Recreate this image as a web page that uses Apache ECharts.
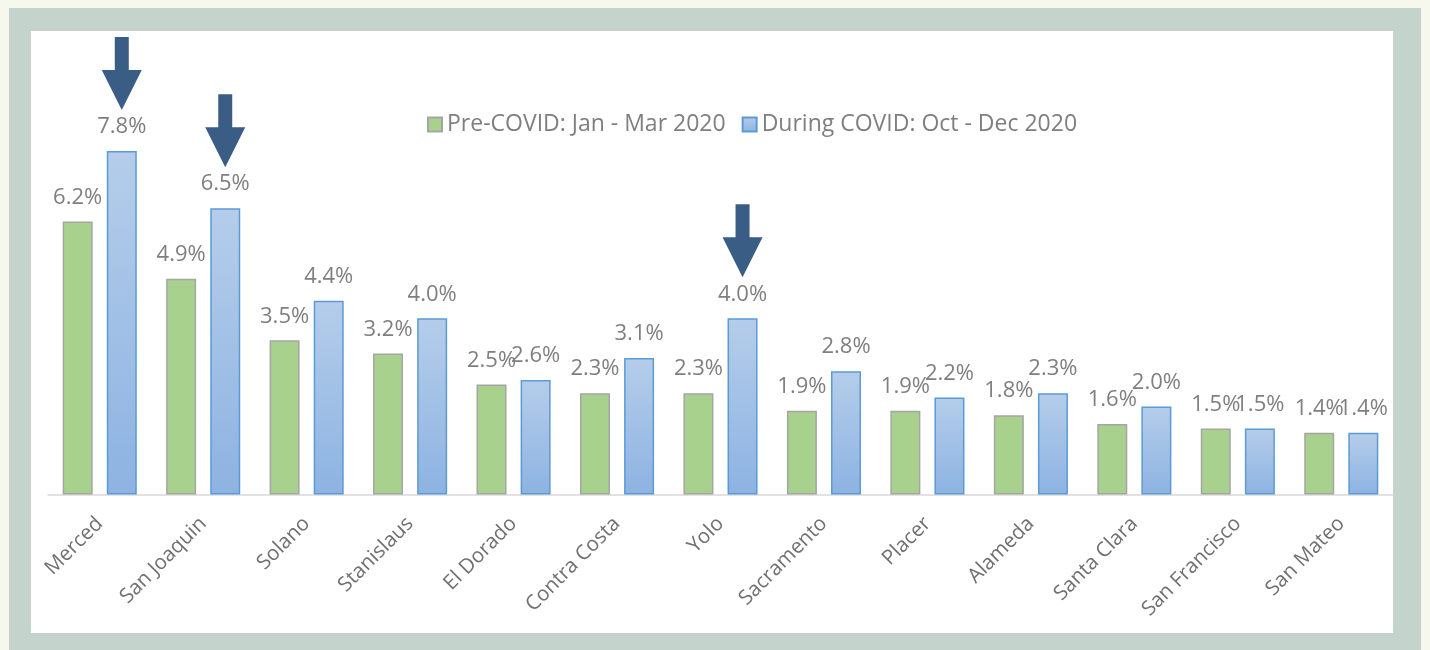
<!DOCTYPE html>
<html><head><meta charset="utf-8">
<script src="https://cdn.jsdelivr.net/npm/echarts@6/dist/echarts.min.js"></script>
<style>
html,body{margin:0;padding:0;width:1430px;height:650px;background:#f6f8ee;overflow:hidden}
#frame{position:absolute;left:9px;top:8px;width:1412px;height:642px;background:#c4d4cc}
#panel{position:absolute;left:31px;top:31px;width:1362px;height:602px;background:#fff}
#chart{position:absolute;left:0;top:0;width:1430px;height:650px}
</style></head><body>
<div id="frame"></div><div id="panel"></div><div id="chart"></div>
<script>
const counties = ['Merced','San Joaquin','Solano','Stanislaus','El Dorado','Contra Costa','Yolo','Sacramento','Placer','Alameda','Santa Clara','San Francisco','San Mateo'];
const preCovid = [6.2, 4.9, 3.5, 3.2, 2.5, 2.3, 2.3, 1.9, 1.9, 1.8, 1.6, 1.5, 1.4];
const duringCovid = [7.8, 6.5, 4.4, 4.0, 2.6, 3.1, 4.0, 2.8, 2.2, 2.3, 2.0, 1.5, 1.4];
const seriesNames = ['Pre-COVID: Jan - Mar 2020', 'During COVID: Oct - Dec 2020'];
const highlighted = ['Merced', 'San Joaquin', 'Yolo'];

const FONT = 'Open Sans';
const chart = echarts.init(document.getElementById('chart'), null, {renderer: 'canvas'});
const labelCfg = {
  show: true, position: 'top', distance: 13,
  color: '#7f7f7f', fontSize: 22, fontFamily: FONT,
  formatter: p => p.value.toFixed(1) + '%'
};
chart.setOption({
  animation: false,
  backgroundColor: 'transparent',
  grid: {left: 48, right: 37, top: 54, bottom: 155.5},
  legend: {
    left: 427, top: 113, padding: 0, itemWidth: 14, itemHeight: 14, itemGap: 16,
    icon: 'rect',
    textStyle: {color: '#7f7f7f', fontSize: 23, fontFamily: FONT},
    data: seriesNames
  },
  xAxis: {
    type: 'category', data: counties,
    axisLine: {lineStyle: {color: '#d9d9d9', width: 1.5}},
    axisTick: {show: false},
    axisLabel: {interval: 0, rotate: 45, margin: 26, color: '#707070', fontSize: 20.5, fontFamily: FONT}
  },
  yAxis: {type: 'value', min: 0, max: 10, show: false, splitLine: {show: false}},
  series: [
    {
      name: seriesNames[0], type: 'bar', data: preCovid,
      barWidth: 30, barGap: '47%',
      itemStyle: {color: '#a9d18e', borderColor: '#a5a5a5', borderWidth: 1.5},
      label: labelCfg
    },
    {
      name: seriesNames[1], type: 'bar', data: duringCovid,
      barWidth: 30,
      itemStyle: {
        color: new echarts.graphic.LinearGradient(0, 0, 0, 1, [
          {offset: 0, color: '#b5cdea'}, {offset: 1, color: '#8db3e2'}
        ]),
        borderColor: '#5b9bd5', borderWidth: 1.5
      },
      label: labelCfg,
      markPoint: {
        silent: true,
        symbol: 'path://M13 0L27 0L27 33L40 33L20 73L0 33L13 33Z',
        symbolSize: [40, 73],
        symbolOffset: [0, -77.5],
        symbolKeepAspect: false,
        itemStyle: {color: '#3a5d86'},
        label: {show: false},
        data: highlighted.map(n => ({coord: [n, duringCovid[counties.indexOf(n)]]}))
      }
    }
  ]
});
</script>
</body></html>
